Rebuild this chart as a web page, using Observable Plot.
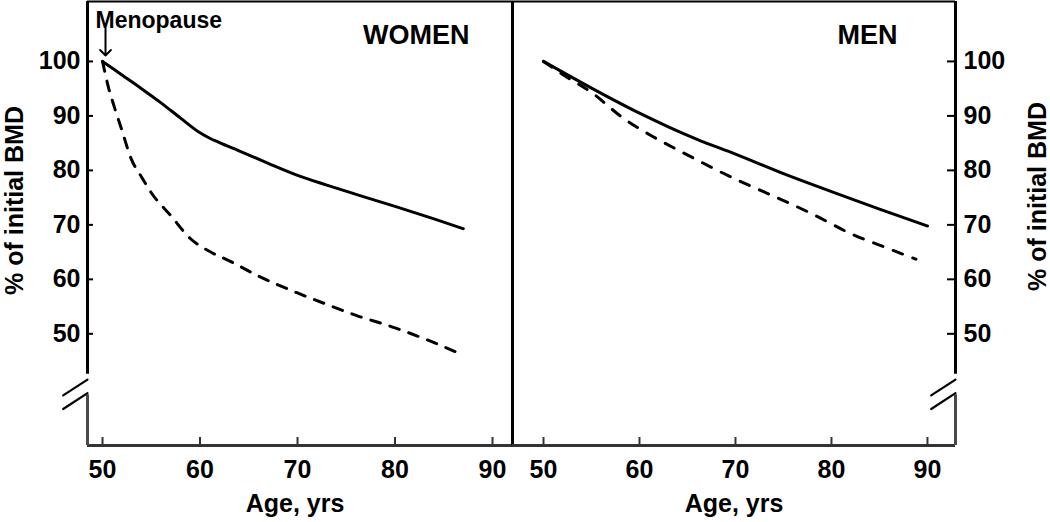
<!DOCTYPE html>
<html><head><meta charset="utf-8">
<script src="https://cdn.jsdelivr.net/npm/d3@7"></script>
<script src="https://cdn.jsdelivr.net/npm/@observablehq/plot@0.6"></script>
<style>
html,body{margin:0;padding:0;background:#fff;}
#chart{position:relative;width:1050px;height:522px;overflow:hidden;}
#chart svg{position:absolute;top:0;overflow:visible;}
</style></head><body><div id="chart"></div>
<script>
// ---- data ----
const ageTicks = [50, 60, 70, 80, 90];
const bmdTicks = [50, 60, 70, 80, 90, 100];
const panelTitles = ["WOMEN", "MEN"];
const yLabel = "% of initial BMD";
const xLabel = "Age, yrs";
const menopauseLabel = "Menopause";
const menopauseAge = 50;

const womenSolidAge = [50, 52, 54, 56, 58, 60, 61, 62, 64, 67, 70, 73, 76, 80, 84, 87];
const womenSolidBMD = [100, 97.5, 95, 92.4, 89.6, 86.9, 85.9, 85.1, 83.6, 81.3, 79.1, 77.3, 75.6, 73.4, 71.1, 69.3];
const womenDashAge = [50, 50.6, 51.2, 52, 52.9, 54, 55, 57, 59, 61, 63, 66, 70, 73, 76, 80, 83, 87];
const womenDashBMD = [100, 95.3, 91.7, 87.3, 82.3, 78.8, 75.9, 71.7, 67.5, 65.1, 63.4, 60.6, 57.5, 55.4, 53.4, 51.1, 49.1, 46.1];
const menSolidAge = [50, 55, 60, 63, 66, 70, 75, 80, 85, 90];
const menSolidBMD = [100, 95.1, 90.5, 88, 85.7, 83, 79.4, 76.1, 72.9, 69.8];
const menDashAge = [50, 52, 55, 58.3, 61, 64.6, 70, 73.3, 78, 82, 86, 88.8];
const menDashBMD = [100, 97.6, 94.3, 89.6, 86.6, 83.2, 78.4, 75.8, 72, 68.4, 65.6, 63.7];

// ---- layout ----
const H = 522, mTop = 1, mBottom = 77;
const yDomain = [29.5, 111.0];
const yBreakHi = 42.6, yBreakLo = 38.8, yBreakMarks = [41.6, 39.1];
const leftX = [48.46, 92.05];
const rightX = [46.77, 92.92];
const FONT = "Liberation Sans, Arial, Helvetica, sans-serif";

const toRows = (ages, vals) => ages.map((a, i) => ({age: a, bmd: vals[i]}));
const slash = {draw(ctx, l) { ctx.moveTo(0, l / 2); ctx.lineTo(0, -l / 2); }};

function panel({xDomain, width, mLeft, mRight, side, solid, dashed, dash, title, titleDx, ylabDx, ylabDy, xlabDx, menopause}) {
  const innerW = width - mLeft - mRight;
  const innerH = H - mTop - mBottom;
  const axisX = side === "left" ? xDomain[0] : xDomain[1];
  const marks = [
    // top border, bottom axis
    Plot.ruleY([yDomain[1]], {stroke: "#000", strokeWidth: 2}),
    Plot.ruleY([yDomain[0]], {stroke: "#333", strokeWidth: 3}),
    // vertical axis with break
    Plot.ruleX([axisX], {y1: yBreakHi, y2: yDomain[1], stroke: "#000", strokeWidth: 3}),
    Plot.ruleX([axisX], {y1: yDomain[0], y2: yBreakLo, stroke: "#4a4a4a", strokeWidth: 3}),
    Plot.vector(yBreakMarks.map(y => ({x: axisX, y})), {x: "x", y: "y", length: 29, rotate: 57, shape: slash, stroke: "#000", strokeWidth: 2.2}),
    // x ticks (inward)
    Plot.tickX(ageTicks, {x: d => d, insetTop: innerH - 8, stroke: "#333", strokeWidth: 2}),
    Plot.axisX({ticks: ageTicks, tickSize: 0, tickPadding: 15, label: null, fontSize: 25, fontWeight: "bold"}),
    // y ticks (inward)
    Plot.tickY(bmdTicks, side === "left"
      ? {y: d => d, insetRight: innerW - 6, stroke: "#000", strokeWidth: 2}
      : {y: d => d, insetLeft: innerW - 8, stroke: "#000", strokeWidth: 2}),
    Plot.axisY({anchor: side, ticks: bmdTicks, tickSize: 0, tickPadding: side === "left" ? 7 : 8, label: null, fontSize: 25, fontWeight: "bold"}),
    // data lines
    Plot.line(solid, {x: "age", y: "bmd", stroke: "#000", strokeWidth: 3, curve: "monotone-x"}),
    Plot.line(dashed, {x: "age", y: "bmd", stroke: "#000", strokeWidth: 3, strokeDasharray: dash, curve: "monotone-x"}),
    // texts
    Plot.text([title], {frameAnchor: "top-right", textAnchor: "end", lineAnchor: "top", dx: titleDx, dy: 23, fontSize: 27, fontWeight: "bold"}),
    Plot.text([yLabel], {frameAnchor: side, textAnchor: "middle", lineAnchor: "middle", rotate: -90, dx: ylabDx, dy: ylabDy, fontSize: 25, fontWeight: "bold"}),
    Plot.text([xLabel], {frameAnchor: "bottom", textAnchor: "middle", lineAnchor: "middle", dx: xlabDx, dy: 58, fontSize: 25, fontWeight: "bold"})
  ];
  if (side === "left") {
    // panel divider at right edge
    marks.push(Plot.ruleX([xDomain[1]], {stroke: "#000", strokeWidth: 3}));
  }
  if (menopause) {
    marks.push(Plot.vector([{x: menopauseAge, y: 100}], {x: "x", y: "y", length: 27, rotate: 180, anchor: "end", dx: 3, dy: -6, stroke: "#000", strokeWidth: 2}));
    marks.push(Plot.text([menopauseLabel], {frameAnchor: "top-left", textAnchor: "start", lineAnchor: "top", dx: 8, dy: 10, fontSize: 23, fontWeight: "bold"}));
  }
  return Plot.plot({
    width, height: H,
    marginTop: mTop, marginBottom: mBottom, marginLeft: mLeft, marginRight: mRight,
    x: {domain: xDomain},
    y: {domain: yDomain},
    style: {fontFamily: FONT, fontSize: "25px", background: "transparent", color: "#000", overflow: "visible"},
    marks
  });
}

const left = panel({
  xDomain: leftX, width: 514, mLeft: 87, mRight: 2, side: "left",
  solid: toRows(womenSolidAge, womenSolidBMD), dashed: toRows(womenDashAge, womenDashBMD), dash: "10,10",
  title: panelTitles[0], titleDx: -43, ylabDx: -73, ylabDy: -23, xlabDx: -5, menopause: true
});
const right = panel({
  xDomain: rightX, width: 540, mLeft: 2, mRight: 95, side: "right",
  solid: toRows(menSolidAge, menSolidBMD), dashed: toRows(menDashAge, menDashBMD), dash: "10,11",
  title: panelTitles[1], titleDx: -58, ylabDx: 82, ylabDy: -27, xlabDx: 0, menopause: false
});
left.style.left = "0px";
right.style.left = "510px";
const chart = document.getElementById("chart");
chart.appendChild(left);
chart.appendChild(right);
</script></body></html>
